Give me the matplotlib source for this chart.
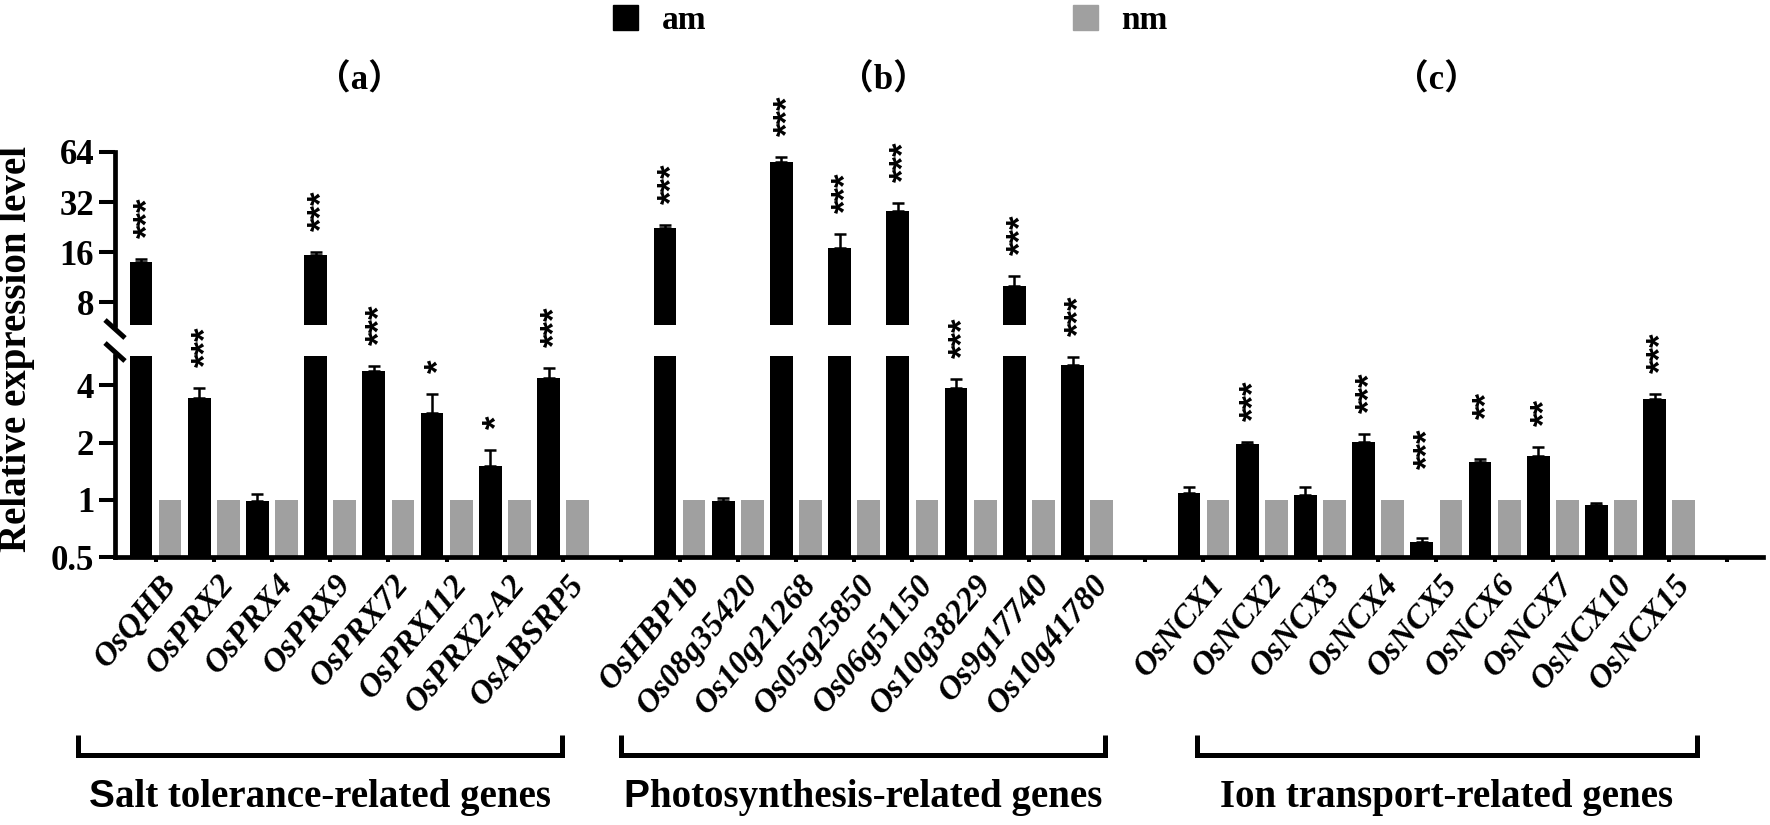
"""
Relative expression of salt-tolerance, photosynthesis and ion-transport genes,
am vs nm, on a broken log2 axis.
"""
import matplotlib

matplotlib.use("Agg")
import matplotlib.pyplot as plt  # noqa: E402
import numpy as np  # noqa: E402
from matplotlib import font_manager  # noqa: E402
from matplotlib.font_manager import FontProperties  # noqa: E402
from matplotlib.lines import Line2D  # noqa: E402
from matplotlib.patches import Patch  # noqa: E402
from matplotlib.ticker import NullLocator  # noqa: E402
from matplotlib.transforms import blended_transform_factory  # noqa: E402

# ---- data -------------------------------------------------------------------
salt_genes = ["OsQHB", "OsPRX2", "OsPRX4", "OsPRX9", "OsPRX72", "OsPRX112", "OsPRX2-A2", "OsABSRP5"]
salt_am = [13.9, 3.43, 0.99, 15.3, 4.75, 2.86, 1.50, 4.37]
salt_err = [0.6, 0.45, 0.08, 0.7, 0.28, 0.74, 0.32, 0.55]
salt_nm = [1, 1, 1, 1, 1, 1, 1, 1]
salt_sig = ["***", "***", "", "***", "***", "*", "*", "***"]

photo_genes = ["OsHBP1b", "Os08g35420", "Os10g21268", "Os05g25850",
               "Os06g51150", "Os10g38229", "Os9g17740", "Os10g41780"]
photo_am = [22.3, 0.98, 55.7, 16.9, 28.3, 3.87, 10.0, 5.11]
photo_err = [1.0, 0.04, 3.9, 3.5, 3.2, 0.45, 1.4, 0.5]
photo_nm = [1, 1, 1, 1, 1, 1, 1, 1]
photo_sig = ["***", "", "***", "***", "***", "***", "***", "***"]

ion_genes = ["OsNCX1", "OsNCX2", "OsNCX3", "OsNCX4", "OsNCX5",
             "OsNCX6", "OsNCX7", "OsNCX10", "OsNCX15"]
ion_am = [1.08, 1.97, 1.06, 2.01, 0.60, 1.58, 1.70, 0.94, 3.39]
ion_err = [0.09, 0.05, 0.11, 0.21, 0.03, 0.05, 0.20, 0.02, 0.20]
ion_nm = [1, 1, 1, 1, 1, 1, 1, 1, 1]
ion_sig = ["", "***", "", "***", "***", "**", "**", "", "***"]

panel_titles = ["\uff08a\uff09", "\uff08b\uff09", "\uff08c\uff09"]
group_titles = [("S", "alt tolerance-related genes"),
                ("P", "hotosynthesis-related genes"),
                ("", "Ion transport-related genes")]

lower_ticks = [0.5, 1, 2, 4]
upper_ticks = [8, 16, 32, 64]

# ---- layout -----------------------------------------------------------------
W, H = 1770, 825
BLACK, GREY = "#000000", "#a0a0a0"
LOWER_LIM = (0.5, 5.71)
UPPER_LIM = (5.82, 64)
BRACKET_PAD = [(-1.34, -0.02), (-1.0, 0.3), (-0.12, 0.48)]
STAR_GAP_PX = {"OsNCX5": 69, "OsNCX6": 40}

plt.rcParams["font.family"] = ["Liberation Serif", "Noto Sans CJK SC"]
plt.rcParams["font.weight"] = "bold"


def italic_font(size):
    # first serif family that really ships a bold italic face
    for fam in ("Liberation Serif", "DejaVu Serif", "Noto Serif", "Liberation Sans"):
        fp = FontProperties(family=fam, style="italic", weight="bold", size=size)
        path = font_manager.findfont(fp, fallback_to_default=False)
        name = path.lower()
        if "italic" in name or "oblique" in name:
            return FontProperties(fname=path, size=size)
    return FontProperties(family="DejaVu Serif", style="italic", weight="bold", size=size)


groups = [
    (salt_genes, salt_am, salt_err, salt_nm, salt_sig),
    (photo_genes, photo_am, photo_err, photo_nm, photo_sig),
    (ion_genes, ion_am, ion_err, ion_nm, ion_sig),
]

# slot positions: one empty slot between groups
genes, am, err, nm, sig, pos, spans = [], [], [], [], [], [], []
start = 0
for g, a, e, n, s in groups:
    p = np.arange(start, start + len(g))
    genes += g
    am += a
    err += e
    nm += n
    sig += s
    pos += list(p)
    spans.append((p[0], p[-1]))
    start += len(g) + 1
pos = np.array(pos, dtype=float)
am = np.array(am)
err = np.array(err)
nm = np.array(nm, dtype=float)
n_slots = start - 1

fig = plt.figure(figsize=(W / 100, H / 100), dpi=100)
left, right = 115 / W, 1763 / W
ax_lo = fig.add_axes([left, 1 - 557 / H, right - left, (557 - 356) / H])
ax_hi = fig.add_axes([left, 1 - 325 / H, right - left, (325 - 152) / H], sharex=ax_lo)
ax_hi.patch.set_visible(False)

off, bw = 0.25, 0.39
for ax in (ax_lo, ax_hi):
    ax.set_yscale("log", base=2)
    ax.bar(pos - off, am, width=bw, color=BLACK, zorder=2)
    ax.bar(pos + off, nm, width=bw, color=GREY, zorder=2)
    ax.errorbar(pos - off, am, yerr=[np.zeros_like(err), err], fmt="none",
                ecolor=BLACK, elinewidth=1.8, capsize=4.5, capthick=1.8, zorder=3)
    for side in ("top", "right"):
        ax.spines[side].set_visible(False)
    ax.spines["left"].set_linewidth(3.4)
    ax.spines["bottom"].set_linewidth(3.4)
    ax.yaxis.set_minor_locator(NullLocator())
    ax.tick_params(axis="y", length=11.5, width=2.9, pad=3.5, labelsize=25)

ax_lo.set_xlim(-0.696, n_slots + 0.61)
ax_lo.set_ylim(*LOWER_LIM)
ax_hi.set_ylim(*UPPER_LIM)
ax_lo.set_yticks(lower_ticks, [f"{t:g}" for t in lower_ticks])
ax_hi.set_yticks(upper_ticks, [f"{t:g}" for t in upper_ticks])
ax_hi.spines["bottom"].set_visible(False)
ax_hi.tick_params(axis="x", bottom=False, labelbottom=False)
ax_lo.tick_params(axis="x", length=3.6, width=2.9, pad=4)

# gene names as rotated italic texts under each slot
ax_lo.set_xticks(np.arange(n_slots + 1), [""] * (n_slots + 1))
gene_font = italic_font(24)
label_trans = ax_lo.get_xaxis_transform()
for p, g in zip(pos, genes):
    ax_lo.text(p + 0.06, -0.06, g, transform=label_trans, rotation=50,
               ha="right", va="top", rotation_mode="anchor", fontproperties=gene_font)

# significance stars
for p, g, v, e, s in zip(pos, genes, am, err, sig):
    if not s:
        continue
    top = v + e
    ax = ax_hi if top > UPPER_LIM[0] else ax_lo
    gap = STAR_GAP_PX.get(g, 21) * 0.72
    ax.annotate(s, (p - off, top), xytext=(5, gap), textcoords="offset points",
                rotation=90, ha="center", va="bottom", fontsize=25,
                family="Liberation Sans", fontweight="bold", annotation_clip=False)


# axis break marks
def break_mark(ax, yfrac, dy):
    x0, y0 = ax.transAxes.transform((0, yfrac))
    xs = np.array([x0 - 10, x0 + 10]) / W
    ys = np.array([y0 + dy + 9, y0 + dy - 9]) / H
    fig.add_artist(Line2D(xs, ys, color=BLACK, lw=3.6, solid_capstyle="butt"))


break_mark(ax_hi, 0, -4)
break_mark(ax_lo, 1, 4)

fig.text(17 / W, 1 - 349 / H, "Relative expression level", rotation=90,
         ha="center", va="center", fontsize=28)

# panel titles, brackets, group captions
trans = blended_transform_factory(ax_lo.transData, fig.transFigure)
renderer = fig.canvas.get_renderer()
for (a, b), (lp, rp), title, (first, rest) in zip(spans, BRACKET_PAD, panel_titles, group_titles):
    fig.text(ax_lo.transData.transform(((a + b) / 2, 0))[0] / W, 1 - 81 / H, title,
             ha="center", va="center", fontsize=25)
    x0, x1 = a + lp, b + rp
    fig.add_artist(Line2D([x0, x0, x1, x1], [0.109, 0.0848, 0.0848, 0.109],
                          transform=trans, color=BLACK, lw=3.6,
                          solid_joinstyle="miter", solid_capstyle="butt"))
    xc = ax_lo.transData.transform(((x0 + x1) / 2, 0))[0]
    t1 = fig.text(0, 0.022, first, family="Liberation Sans", fontsize=28, va="baseline")
    t2 = fig.text(0, 0.022, rest, fontsize=28, va="baseline")
    w1 = t1.get_window_extent(renderer).width if first else 0.0
    w2 = t2.get_window_extent(renderer).width
    xs = xc - (w1 + w2) / 2
    t1.set_x(xs / W)
    t2.set_x((xs + w1) / W)

fig.legend(handles=[Patch(color=BLACK, label="am"), Patch(color=GREY, label="nm")],
           loc="center", bbox_to_anchor=(0.503, 0.975), ncol=2, frameon=False,
           fontsize=24, handlelength=0.75, handleheight=0.8, handletextpad=0.7,
           columnspacing=11.0, borderpad=0)

fig.savefig("out.png", dpi=100)
plt.close(fig)
